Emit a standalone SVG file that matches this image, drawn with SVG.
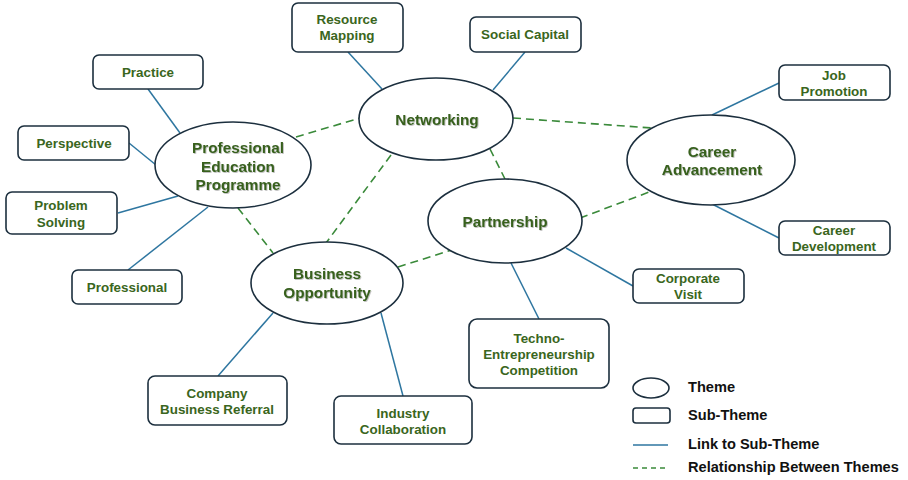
<svg xmlns="http://www.w3.org/2000/svg" width="908" height="480" viewBox="0 0 908 480">
<defs>
<filter id="sh" x="-10%" y="-20%" width="120%" height="140%">
<feDropShadow dx="0.8" dy="0.8" stdDeviation="0.6" flood-color="#000" flood-opacity="0.3"/>
</filter>
</defs>
<style>
.theme{fill:#fff;stroke:#1c2f3e;stroke-width:1.6}
.sub{fill:#fff;stroke:#1c2f3e;stroke-width:1.6}
.tt{font-family:"Liberation Sans",Arial,sans-serif;font-weight:bold;font-size:15.3px;fill:#37601f;text-anchor:middle;filter:url(#sh)}
.st{font-family:"Liberation Sans",Arial,sans-serif;font-weight:bold;font-size:13.4px;fill:#3a6620;text-anchor:middle}
.lt{font-family:"Liberation Sans",Arial,sans-serif;font-weight:bold;font-size:14.6px;fill:#111}
.link{stroke:#2e76a0;stroke-width:1.5;fill:none}
.rel{stroke:#3a8a3a;stroke-width:1.6;stroke-dasharray:8 5;fill:none}
</style>
<rect width="908" height="480" fill="#fff"/>
<g id="connectors">
<line class="link" x1="148" y1="89" x2="180" y2="133"/>
<line class="link" x1="129" y1="143" x2="156" y2="165"/>
<line class="link" x1="118" y1="213" x2="178" y2="196"/>
<line class="link" x1="128" y1="270" x2="208" y2="207"/>
<line class="link" x1="348" y1="52" x2="382" y2="89"/>
<line class="link" x1="525" y1="52" x2="493" y2="90"/>
<line class="link" x1="779" y1="83" x2="712" y2="115"/>
<line class="link" x1="779" y1="238" x2="712" y2="204"/>
<line class="link" x1="633" y1="286" x2="566" y2="248"/>
<line class="link" x1="539" y1="319" x2="511" y2="263"/>
<line class="link" x1="218" y1="376" x2="273" y2="313"/>
<line class="link" x1="403" y1="396" x2="381" y2="313"/>
<line class="rel" x1="296" y1="137" x2="360" y2="118"/>
<line class="rel" x1="513" y1="118" x2="652" y2="128"/>
<line class="rel" x1="490" y1="149" x2="505" y2="179"/>
<line class="rel" x1="391" y1="155" x2="326" y2="243"/>
<line class="rel" x1="238" y1="208" x2="273" y2="253"/>
<line class="rel" x1="398" y1="267" x2="455" y2="249"/>
<line class="rel" x1="580" y1="218" x2="652" y2="191"/>
</g>
<g id="pep"><ellipse class="theme" cx="233" cy="165" rx="78" ry="43"/><text class="tt" x="238" y="153">Professional</text><text class="tt" x="238" y="172">Education</text><text class="tt" x="238" y="190">Programme</text></g>
<g id="networking"><ellipse class="theme" cx="436" cy="119" rx="77" ry="41"/><text class="tt" x="437" y="125">Networking</text></g>
<g id="career"><ellipse class="theme" cx="711" cy="160" rx="84" ry="45"/><text class="tt" x="712" y="157">Career</text><text class="tt" x="712" y="175">Advancement</text></g>
<g id="partnership"><ellipse class="theme" cx="505" cy="221" rx="77" ry="42"/><text class="tt" x="505" y="227">Partnership</text></g>
<g id="business"><ellipse class="theme" cx="327" cy="283" rx="76" ry="41"/><text class="tt" x="327" y="279">Business</text><text class="tt" x="327" y="298">Opportunity</text></g>
<g id="practice"><rect class="sub" x="93" y="55" width="110" height="34" rx="6"/><text class="st" x="148" y="77">Practice</text></g>
<g id="perspective"><rect class="sub" x="18" y="126" width="111" height="34" rx="6"/><text class="st" x="74" y="148">Perspective</text></g>
<g id="problem"><rect class="sub" x="6" y="192" width="111" height="42" rx="6"/><text class="st" x="61" y="210">Problem</text><text class="st" x="61" y="227">Solving</text></g>
<g id="professional"><rect class="sub" x="72" y="270" width="110" height="34" rx="6"/><text class="st" x="127" y="292">Professional</text></g>
<g id="resource"><rect class="sub" x="292" y="3" width="111" height="49" rx="6"/><text class="st" x="347" y="24">Resource</text><text class="st" x="347" y="40">Mapping</text></g>
<g id="social"><rect class="sub" x="470" y="17" width="111" height="35" rx="6"/><text class="st" x="525" y="39">Social Capital</text></g>
<g id="job"><rect class="sub" x="779" y="65" width="111" height="35" rx="6"/><text class="st" x="834" y="80">Job</text><text class="st" x="834" y="96">Promotion</text></g>
<g id="cdev"><rect class="sub" x="779" y="221" width="111" height="34" rx="6"/><text class="st" x="834" y="235">Career</text><text class="st" x="834" y="251">Development</text></g>
<g id="corporate"><rect class="sub" x="633" y="269" width="111" height="34" rx="6"/><text class="st" x="688" y="283">Corporate</text><text class="st" x="688" y="299">Visit</text></g>
<g id="techno"><rect class="sub" x="469" y="319" width="140" height="69" rx="8"/><text class="st" x="539" y="343">Techno-</text><text class="st" x="539" y="359">Entrepreneurship</text><text class="st" x="539" y="375">Competition</text></g>
<g id="referral"><rect class="sub" x="148" y="376" width="139" height="49" rx="7"/><text class="st" x="217" y="398">Company</text><text class="st" x="217" y="414">Business Referral</text></g>
<g id="industry"><rect class="sub" x="334" y="396" width="138" height="48" rx="7"/><text class="st" x="403" y="418">Industry</text><text class="st" x="403" y="434">Collaboration</text></g>
<g id="legend">
<ellipse class="theme" cx="651" cy="388" rx="18" ry="10"/>
<rect class="sub" x="633" y="408" width="37" height="15" rx="3"/>
<line class="link" x1="633" y1="445" x2="668" y2="445"/>
<line stroke="#3a8a3a" stroke-width="1.6" stroke-dasharray="5 4" x1="633" y1="468" x2="668" y2="468"/>
<text class="lt" x="688" y="392">Theme</text>
<text class="lt" x="688" y="420">Sub-Theme</text>
<text class="lt" x="688" y="449">Link to Sub-Theme</text>
<text class="lt" x="688" y="472">Relationship Between Themes</text>
</g>
</svg>
